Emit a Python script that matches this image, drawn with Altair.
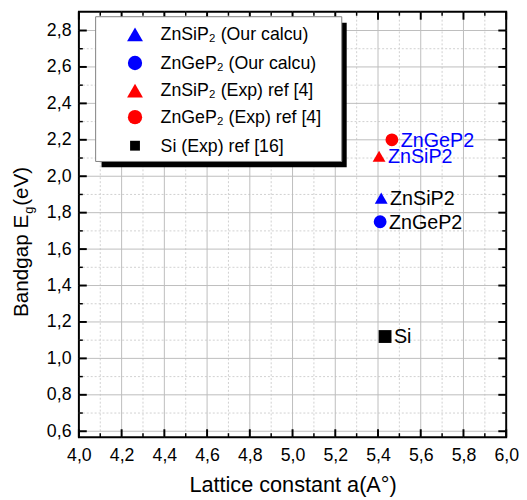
import altair as alt
import pandas as pd

# ---- data ----
series = ["ZnSiP₂ (Our calcu)", "ZnGeP₂ (Our calcu)", "ZnSiP₂ (Exp) ref [4]",
          "ZnGeP₂ (Exp) ref [4]", "Si (Exp) ref [16]"]
lattice = [5.415, 5.41, 5.405, 5.465, 5.433]
bandgap = [1.88, 1.75, 2.11, 2.20, 1.12]
point_labels = ["ZnSiP2", "ZnGeP2", "ZnSiP2", "ZnGeP2", "Si"]
label_colors = ["#000000", "#000000", "#0000ff", "#0000ff", "#000000"]
marker_colors = ["#0000ff", "#0000ff", "#ff0000", "#ff0000", "#000000"]
marker_shapes = ["triangle-up", "circle", "triangle-up", "circle", "square"]

x_major = [4.0, 4.2, 4.4, 4.6, 4.8, 5.0, 5.2, 5.4, 5.6, 5.8, 6.0]
x_minor = [4.1, 4.3, 4.5, 4.7, 4.9, 5.1, 5.3, 5.5, 5.7, 5.9]
y_major = [0.6, 0.8, 1.0, 1.2, 1.4, 1.6, 1.8, 2.0, 2.2, 2.4, 2.6, 2.8]
y_minor = [0.7, 0.9, 1.1, 1.3, 1.5, 1.7, 1.9, 2.1, 2.3, 2.5, 2.7]

x_title = "Lattice constant a(A°)"
y_title_main, y_title_sub, y_title_end = "Bandgap E", "g", "(eV)"

# ---- style ----
W, H = 434, 432
FONT = "Liberation Sans"
marker_sizes = [170, 170, 170, 170, 144]
legend_sizes = [260, 210, 260, 210, 100]

df = pd.DataFrame({"series": series, "a": lattice, "eg": bandgap,
                   "label": point_labels, "lcolor": label_colors})
one = pd.DataFrame({"k": [0]})

xs = alt.Scale(domain=[4.0, 6.0], nice=False, zero=False)
ys = alt.Scale(domain=[0.5676, 2.9027], nice=False, zero=False)
comma = "replace(format(datum.value, '.1f'), '.', ',')"

xaxis = alt.Axis(values=x_major, labelExpr=comma, ticks=False, domain=False, grid=False,
                 labelFont=FONT, labelFontSize=18, labelColor="black", labelPadding=10,
                 labelFlush=False, title=x_title, titleFont=FONT, titleFontSize=22,
                 titleFontWeight="normal", titleColor="black", titlePadding=10)
yaxis = alt.Axis(values=y_major, labelExpr=comma, ticks=False, domain=False, grid=False,
                 labelFont=FONT, labelFontSize=18, labelColor="black", labelPadding=8,
                 title=None)


def vrule(vals, color, width, y0, y1, dash=None):
    kw = dict(color=color, strokeWidth=width)
    if dash:
        kw["strokeDash"] = dash
    return alt.Chart(pd.DataFrame({"a": vals})).mark_rule(**kw).encode(
        x=alt.X("a:Q", scale=xs, axis=xaxis), y=alt.value(y0), y2=alt.value(y1))


def hrule(vals, color, width, x0, x1, dash=None):
    kw = dict(color=color, strokeWidth=width)
    if dash:
        kw["strokeDash"] = dash
    return alt.Chart(pd.DataFrame({"eg": vals})).mark_rule(**kw).encode(
        y=alt.Y("eg:Q", scale=ys, axis=yaxis), x=alt.value(x0), x2=alt.value(x1))


layers = [
    vrule(x_minor, "#d0d0d0", 1, 0, H, dash=[2, 2]),
    hrule(y_minor, "#d0d0d0", 1, 0, W, dash=[2, 2]),
    vrule(x_major[1:-1], "#bdbdbd", 1, 0, H),
    hrule(y_major, "#bdbdbd", 1, 0, W),
    vrule(x_major, "black", 2, H, H - 8),
    vrule(x_major, "black", 2, 0, 8),
    vrule(x_minor, "black", 1.5, H, H - 4),
    vrule(x_minor, "black", 1.5, 0, 4),
    hrule(y_major, "black", 2, 0, 8),
    hrule(y_major, "black", 2, W - 8, W),
    hrule(y_minor, "black", 1.5, 0, 4),
    hrule(y_minor, "black", 1.5, W - 4, W),
]

points = alt.Chart(df).mark_point(filled=True, opacity=1).encode(
    x=alt.X("a:Q", scale=xs, axis=xaxis),
    y=alt.Y("eg:Q", scale=ys, axis=yaxis),
    shape=alt.Shape("series:N", scale=alt.Scale(domain=series, range=marker_shapes), legend=None),
    color=alt.Color("series:N", scale=alt.Scale(domain=series, range=marker_colors), legend=None),
    size=alt.Size("series:N", scale=alt.Scale(domain=series, range=marker_sizes), legend=None),
)
labels = alt.Chart(df).mark_text(align="left", baseline="middle", dx=9, dy=1,
                                 font=FONT, fontSize=20).encode(
    x=alt.X("a:Q", scale=xs, axis=xaxis),
    y=alt.Y("eg:Q", scale=ys, axis=yaxis),
    text="label:N",
    color=alt.Color("lcolor:N", scale=None),
)
layers += [points, labels]

# ---- legend box ----
layers.append(alt.Chart(one).mark_rect(color="black").encode(
    x=alt.value(23), x2=alt.value(272), y=alt.value(11), y2=alt.value(158)))
layers.append(alt.Chart(one).mark_rect(fill="white", stroke="#808080", strokeWidth=1).encode(
    x=alt.value(17), x2=alt.value(267), y=alt.value(5), y2=alt.value(152)))
row_y = [23, 52, 80, 107, 136]
for i, s in enumerate(series):
    base = alt.Chart(df).transform_filter(alt.datum.series == s)
    layers.append(base.mark_point(filled=True, opacity=1, shape=marker_shapes[i],
                                  color=marker_colors[i], size=legend_sizes[i]).encode(
        x=alt.value(57), y=alt.value(row_y[i])))
    layers.append(base.mark_text(align="left", baseline="middle", font=FONT, fontSize=18,
                                 color="black").encode(
        x=alt.value(83), y=alt.value(row_y[i] + 1), text="series:N"))

# ---- y title with subscript ----
layers.append(alt.Chart(one).mark_text(angle=270, align="left", baseline="alphabetic",
                                       font=FONT, fontSize=21, color="black").encode(
    x=alt.value(-52), y=alt.value(310), text=alt.value(y_title_main)))
layers.append(alt.Chart(one).mark_text(angle=270, align="left", baseline="alphabetic",
                                       font=FONT, fontSize=13, color="black").encode(
    x=alt.value(-47), y=alt.value(205), text=alt.value(y_title_sub)))
layers.append(alt.Chart(one).mark_text(angle=270, align="left", baseline="alphabetic",
                                       font=FONT, fontSize=21, color="black").encode(
    x=alt.value(-52), y=alt.value(197), text=alt.value(y_title_end)))

chart = alt.layer(*layers).properties(
    width=W, height=H,
    padding={"left": 72, "top": 0, "right": 13, "bottom": 62},
    autosize=alt.AutoSizeParams(type="none"),
    background="white",
).configure_view(stroke="black", strokeWidth=2)

chart.save("out.html", embed_options={"renderer": "svg", "actions": False})
